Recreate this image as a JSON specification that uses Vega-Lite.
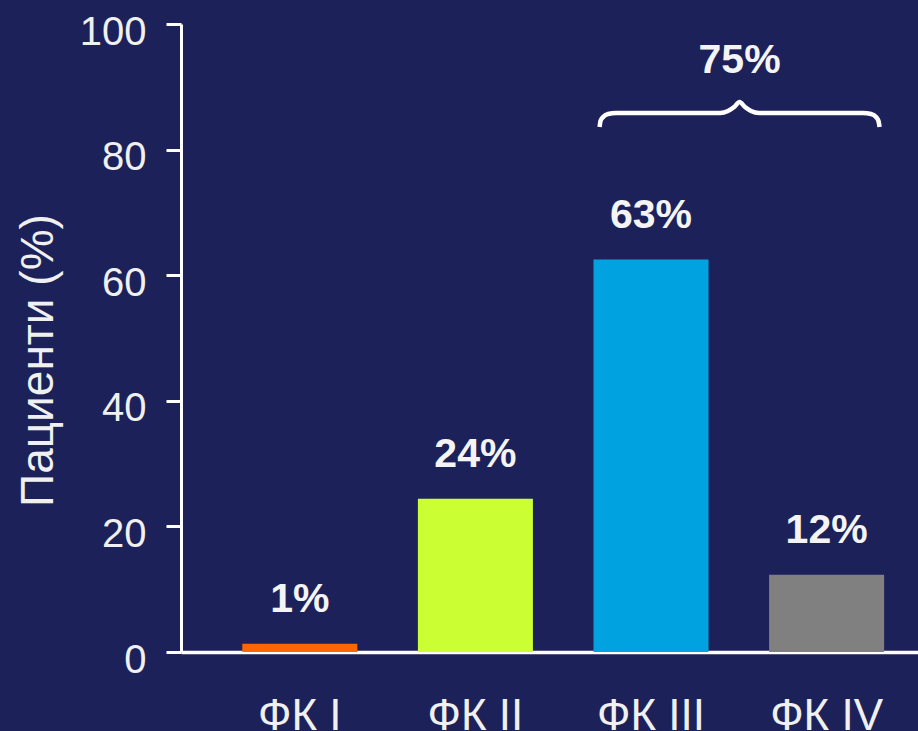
{
  "$schema": "https://vega.github.io/schema/vega-lite/v6.json",
  "width": 737,
  "height": 628,
  "autosize": {"type": "none"},
  "padding": {"left": 181, "top": 24, "right": 0, "bottom": 79},
  "background": "#1c2259",
  "config": {"view": {"stroke": null}, "font": "Liberation Sans"},
  "datasets": {
    "bars": [
      {"fk": "ФК I", "value": 1.3, "label": "1%"},
      {"fk": "ФК II", "value": 24.4, "label": "24%"},
      {"fk": "ФК III", "value": 62.5, "label": "63%"},
      {"fk": "ФК IV", "value": 12.3, "label": "12%"}
    ],
    "brace": [
      {"k": 2.706, "v": 83.6}, {"k": 2.711, "v": 84.55}, {"k": 2.726, "v": 85.19},
      {"k": 2.754, "v": 85.67}, {"k": 2.8, "v": 85.83}, {"k": 3.392, "v": 85.83},
      {"k": 3.437, "v": 86.15}, {"k": 3.472, "v": 86.78}, {"k": 3.503, "v": 87.58},
      {"k": 3.534, "v": 86.78}, {"k": 3.568, "v": 86.15}, {"k": 3.614, "v": 85.83},
      {"k": 4.206, "v": 85.83}, {"k": 4.252, "v": 85.67}, {"k": 4.28, "v": 85.19},
      {"k": 4.294, "v": 84.55}, {"k": 4.3, "v": 83.6}
    ],
    "note": [{"k": 3.503, "v": 92.2, "label": "75%"}]
  },
  "layer": [
    {
      "data": {"name": "bars"},
      "encoding": {
        "x": {
          "field": "fk", "type": "nominal", "sort": null,
          "scale": {"paddingInner": 0.345, "paddingOuter": 0.271, "align": 0.644},
          "axis": {
            "title": null, "labelAngle": 0, "labelFontSize": 44, "labelColor": "#f0f0f0",
            "labelFont": "Liberation Sans", "ticks": false, "tickSize": 0, "labelPadding": 77,
            "labelBaseline": "alphabetic", "domainColor": "#ffffff", "domainWidth": 3.5, "grid": false
          }
        },
        "y": {
          "field": "value", "type": "quantitative",
          "scale": {"domain": [0, 100]},
          "axis": {
            "title": "Пациенти (%)", "values": [0, 20, 40, 60, 80, 100],
            "labelFontSize": 40, "labelColor": "#f0f0f0", "labelFont": "Liberation Sans",
            "labelPadding": 20, "labelOffset": 8, "tickSize": 15, "tickWidth": 3,
            "tickColor": "#ffffff", "domainColor": "#ffffff", "domainWidth": 3, "grid": false,
            "titleFontSize": 46, "titleFontWeight": "normal", "titleColor": "#f0f0f0",
            "titleFont": "Liberation Sans", "titleX": -129, "titleY": 336,
            "titleBaseline": "alphabetic", "titleAngle": -90, "titleAlign": "center"
          }
        }
      },
      "layer": [
        {
          "mark": {"type": "bar"},
          "encoding": {
            "color": {
              "field": "fk", "type": "nominal",
              "scale": {"domain": ["ФК I", "ФК II", "ФК III", "ФК IV"], "range": ["#ff6600", "#ccff33", "#00a3e0", "#808080"]},
              "legend": null
            }
          }
        },
        {
          "mark": {"type": "text", "fontSize": 41, "fontWeight": "bold", "color": "#f4f4f4", "baseline": "alphabetic", "dy": -32, "font": "Liberation Sans"},
          "encoding": {"text": {"field": "label"}}
        }
      ]
    },
    {
      "data": {"name": "brace"},
      "mark": {"type": "line", "color": "#ffffff", "strokeWidth": 4.5, "interpolate": "monotone"},
      "encoding": {
        "x": {"field": "k", "type": "quantitative", "scale": {"domain": [0.3223, 4.519], "nice": false, "zero": false}, "axis": null},
        "y": {"field": "v", "type": "quantitative", "scale": {"domain": [0, 100]}, "axis": null}
      }
    },
    {
      "data": {"name": "note"},
      "mark": {"type": "text", "fontSize": 41, "fontWeight": "bold", "color": "#f4f4f4", "baseline": "alphabetic", "align": "center", "font": "Liberation Sans"},
      "encoding": {
        "x": {"field": "k", "type": "quantitative", "scale": {"domain": [0.3223, 4.519], "nice": false, "zero": false}, "axis": null},
        "y": {"field": "v", "type": "quantitative", "scale": {"domain": [0, 100]}, "axis": null},
        "text": {"field": "label"}
      }
    }
  ],
  "resolve": {"scale": {"x": "independent", "y": "independent"}}
}
